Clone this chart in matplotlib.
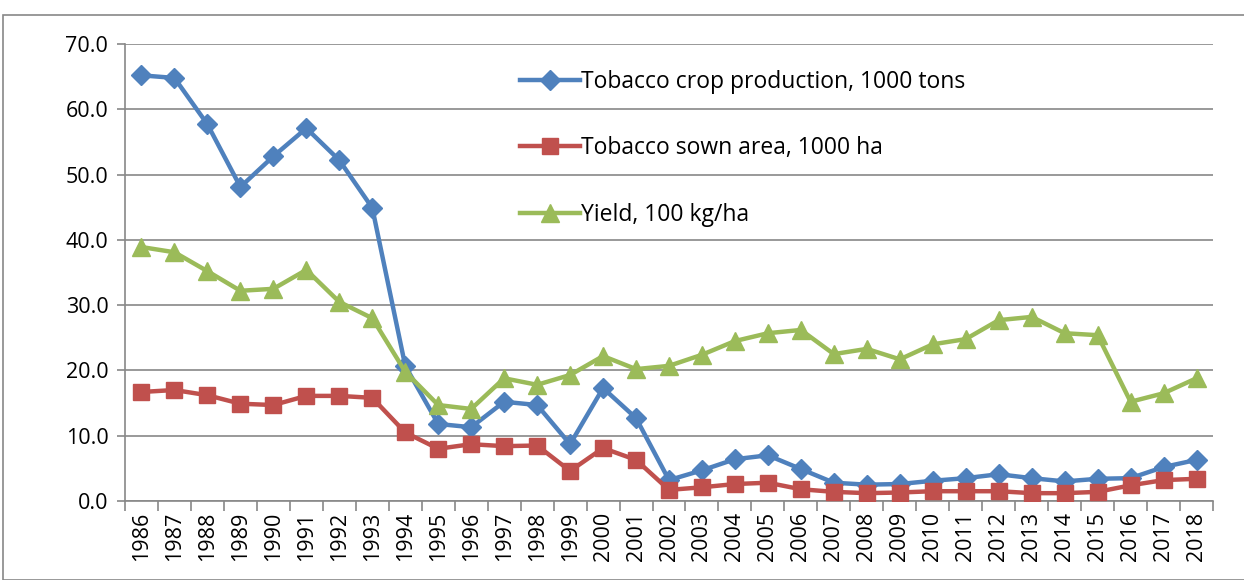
import matplotlib
matplotlib.use("Agg")
import matplotlib.pyplot as plt
from matplotlib.patches import Rectangle
import numpy as np

years = [str(y) for y in range(1986, 2019)]
production = [65.2, 64.8, 57.7, 48.1, 52.8, 57.1, 52.2, 44.9, 20.7, 11.8, 11.3, 15.2, 14.7,
              8.7, 17.3, 12.7, 3.2, 4.7, 6.4, 7.0, 4.9, 2.8, 2.5, 2.6, 3.1, 3.5, 4.1, 3.5,
              3.0, 3.4, 3.5, 5.2, 6.3]
area = [16.7, 17.0, 16.2, 14.9, 14.7, 16.1, 16.1, 15.8, 10.5, 8.0, 8.7, 8.4, 8.5, 4.6, 8.1,
        6.3, 1.7, 2.1, 2.6, 2.8, 1.8, 1.4, 1.2, 1.3, 1.5, 1.5, 1.5, 1.2, 1.2, 1.4, 2.4, 3.2, 3.4]
yield_ = [38.9, 38.1, 35.2, 32.2, 32.5, 35.4, 30.5, 28.0, 19.8, 14.7, 14.1, 18.8, 17.8, 19.3,
          22.2, 20.2, 20.7, 22.4, 24.5, 25.7, 26.2, 22.5, 23.3, 21.7, 24.0, 24.8, 27.7, 28.2,
          25.7, 25.4, 15.2, 16.5, 18.8]
labels = ["Tobacco crop production, 1000 tons", "Tobacco sown area, 1000 ha", "Yield, 100 kg/ha"]

plt.rcParams['font.family'] = ['Open Sans', 'DejaVu Sans']

fig = plt.figure(figsize=(12.44, 5.8), dpi=100)
ax = fig.add_axes([125/1244, 1-501/580, (1213-125)/1244, (501-44)/580])

fig.patches.append(Rectangle((3/1244, 0), 1.2, 1-15/580, transform=fig.transFigure,
                             fill=False, edgecolor='#888888', linewidth=1.2, zorder=0))

x = np.arange(len(years))
ax.plot(x, production, color='#4F81BD', lw=3.2, marker='D', ms=10, label=labels[0], zorder=3)
ax.plot(x, area, color='#C0504D', lw=3.2, marker='s', ms=12, label=labels[1], zorder=3)
ax.plot(x, yield_, color='#9BBB59', lw=3.2, marker='^', ms=13, label=labels[2], zorder=3)

ax.set_xlim(-0.5, len(years) - 0.5)
ax.set_ylim(0, 70)
ax.set_yticks(np.arange(0, 71, 10))
ax.set_yticklabels([f"{v:.1f}" for v in np.arange(0, 71, 10)], fontsize=15.5)
ax.set_xticks(x)
ax.set_xticklabels(years, rotation=90, fontsize=15.5)
ax.set_xticks(np.arange(-0.5, len(years), 1), minor=True)
ax.tick_params(axis='x', which='major', length=0, pad=8)
ax.tick_params(axis='x', which='minor', length=7, color='#888888', width=1.2)
ax.tick_params(axis='y', length=6, color='#888888', width=1.2, pad=6)
ax.grid(axis='y', color='#888888', lw=1.2)
ax.set_axisbelow(True)
for s in ['top', 'right']:
    ax.spines[s].set_visible(False)
for s in ['left', 'bottom']:
    ax.spines[s].set_color('#888888')
    ax.spines[s].set_linewidth(1.2)

leg = ax.legend(loc='upper left', bbox_to_anchor=(0.363, 0.944), frameon=False, fontsize=16.5,
                labelspacing=1.86, handlelength=2.6, handletextpad=0.05,
                borderaxespad=0, borderpad=0)

fig.savefig("out.png", dpi=100)
